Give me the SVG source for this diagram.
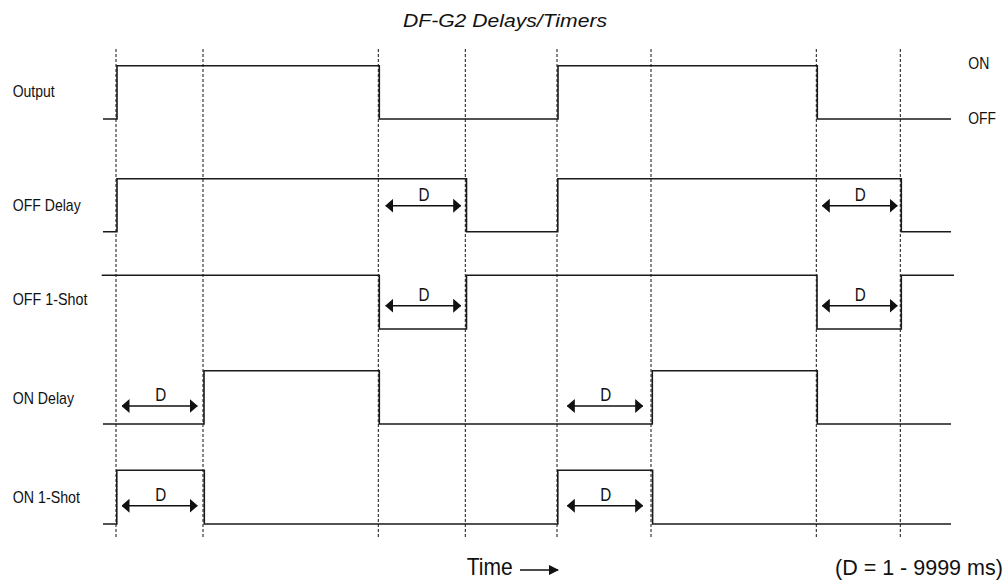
<svg xmlns="http://www.w3.org/2000/svg" width="1008" height="584" viewBox="0 0 1008 584">
  <style>
    .grid { stroke: #111; stroke-width: 1; stroke-dasharray: 3 2; fill: none; }
    .wave { stroke: #1a1a1a; stroke-width: 1.6; fill: none; stroke-linejoin: miter; }
    .dim { stroke: #111; stroke-width: 1.6; fill: none; marker-start: url(#ah); marker-end: url(#ah); }
    .lbl { font-family: "Liberation Sans Narrow", "Arial Narrow", "Liberation Sans", Arial, sans-serif; font-size: 17px; fill: #111; }
    .big { font-family: "Liberation Sans Narrow", "Arial Narrow", "Liberation Sans", Arial, sans-serif; font-size: 24px; fill: #111; }
    .note { font-family: "Liberation Sans", Arial, sans-serif; font-size: 21.5px; fill: #111; }
    .d { font-family: "Liberation Sans Narrow", "Arial Narrow", "Liberation Sans", Arial, sans-serif; font-size: 18px; fill: #111; text-anchor: middle; }
    .title { font-family: "Liberation Sans", Arial, sans-serif; font-size: 19px; font-style: italic; fill: #111; }
  </style>
  <defs>
    <marker id="ah" viewBox="0 0 8 14" refX="7.5" refY="7" markerWidth="8" markerHeight="14" markerUnits="userSpaceOnUse" orient="auto-start-reverse">
      <path d="M0,0 L8,7 L0,14 z" fill="#111"/>
    </marker>
    <marker id="ta" viewBox="0 0 10 10" refX="9" refY="5" markerWidth="10" markerHeight="10" markerUnits="userSpaceOnUse" orient="auto">
      <path d="M0,0 L10,5 L0,10 z" fill="#111"/>
    </marker>
  </defs>

  <text id="title" class="title" x="403" y="27" textLength="204" lengthAdjust="spacingAndGlyphs">DF-G2 Delays/Timers</text>

  <g id="gridlines">
    <line class="grid" x1="116" y1="49" x2="116" y2="538"/>
    <line class="grid" x1="203" y1="49" x2="203" y2="538"/>
    <line class="grid" x1="378.3" y1="49" x2="378.3" y2="538"/>
    <line class="grid" x1="465.3" y1="49" x2="465.3" y2="538"/>
    <line class="grid" x1="557" y1="49" x2="557" y2="538"/>
    <line class="grid" x1="651" y1="49" x2="651" y2="538"/>
    <line class="grid" x1="816.3" y1="49" x2="816.3" y2="538"/>
    <line class="grid" x1="900.3" y1="49" x2="900.3" y2="538"/>
  </g>

  <g id="sig-output">
    <text class="lbl" x="12.7" y="96.5" textLength="42" lengthAdjust="spacingAndGlyphs">Output</text>
    <polyline class="wave" points="103,119 117,119 117,65.7 379.3,65.7 379.3,119 558,119 558,65.7 817.3,65.7 817.3,119 951,119"/>
    <text class="lbl" x="968.3" y="69" textLength="21" lengthAdjust="spacingAndGlyphs">ON</text>
    <text class="lbl" x="968.3" y="124" textLength="27.7" lengthAdjust="spacingAndGlyphs">OFF</text>
  </g>

  <g id="sig-off-delay">
    <text class="lbl" x="12.7" y="211.3" textLength="68" lengthAdjust="spacingAndGlyphs">OFF Delay</text>
    <polyline class="wave" points="103,231.7 117,231.7 117,178.7 466.5,178.7 466.5,231.7 557.8,231.7 557.8,178.7 901.3,178.7 901.3,231.7 951,231.7"/>
  </g>

  <g id="sig-off-1shot">
    <text class="lbl" x="12.7" y="305" textLength="74.7" lengthAdjust="spacingAndGlyphs">OFF 1-Shot</text>
    <polyline class="wave" points="101.7,275.3 379.3,275.3 379.3,329 466.5,329 466.5,275.3 817,275.3 817,329 901.3,329 901.3,275.3 954,275.3"/>
  </g>

  <g id="sig-on-delay">
    <text class="lbl" x="12.7" y="404" textLength="61.3" lengthAdjust="spacingAndGlyphs">ON Delay</text>
    <polyline class="wave" points="103,424 204,424 204,370.7 379.3,370.7 379.3,424 652.3,424 652.3,370.7 817.3,370.7 817.3,424 951,424"/>
  </g>

  <g id="sig-on-1shot">
    <text class="lbl" x="12.7" y="503.3" textLength="67.3" lengthAdjust="spacingAndGlyphs">ON 1-Shot</text>
    <polyline class="wave" points="103,524 116.8,524 116.8,470.3 204.3,470.3 204.3,524 557.8,524 557.8,470.3 652.6,470.3 652.6,524 951,524"/>
  </g>

  <g id="connectors">
    <line class="dim" x1="385.7" y1="205.7" x2="460.7" y2="205.7"/>
    <text class="d" x="424" y="201" textLength="11" lengthAdjust="spacingAndGlyphs">D</text>
    <line class="dim" x1="822.3" y1="205.7" x2="897.3" y2="205.7"/>
    <text class="d" x="860.3" y="201" textLength="11" lengthAdjust="spacingAndGlyphs">D</text>

    <line class="dim" x1="385.7" y1="305.7" x2="460.7" y2="305.7"/>
    <text class="d" x="424" y="301" textLength="11" lengthAdjust="spacingAndGlyphs">D</text>
    <line class="dim" x1="822.3" y1="305.7" x2="897.3" y2="305.7"/>
    <text class="d" x="860.3" y="301" textLength="11" lengthAdjust="spacingAndGlyphs">D</text>

    <line class="dim" x1="122" y1="406" x2="197.3" y2="406"/>
    <text class="d" x="160.7" y="401" textLength="11" lengthAdjust="spacingAndGlyphs">D</text>
    <line class="dim" x1="567.3" y1="406" x2="642.7" y2="406"/>
    <text class="d" x="605.7" y="401" textLength="11" lengthAdjust="spacingAndGlyphs">D</text>

    <line class="dim" x1="122" y1="505.7" x2="197.3" y2="505.7"/>
    <text class="d" x="160.7" y="501" textLength="11" lengthAdjust="spacingAndGlyphs">D</text>
    <line class="dim" x1="567.3" y1="505.7" x2="642.7" y2="505.7"/>
    <text class="d" x="605.7" y="501" textLength="11" lengthAdjust="spacingAndGlyphs">D</text>
  </g>

  <g id="time-axis">
    <text class="big" x="466.7" y="575" textLength="46" lengthAdjust="spacingAndGlyphs">Time</text>
    <line x1="520" y1="570" x2="558" y2="570" stroke="#111" stroke-width="1.6" marker-end="url(#ta)"/>
  </g>

  <text id="note" class="note" x="835" y="575">(D = 1 - 9999 ms)</text>
</svg>
